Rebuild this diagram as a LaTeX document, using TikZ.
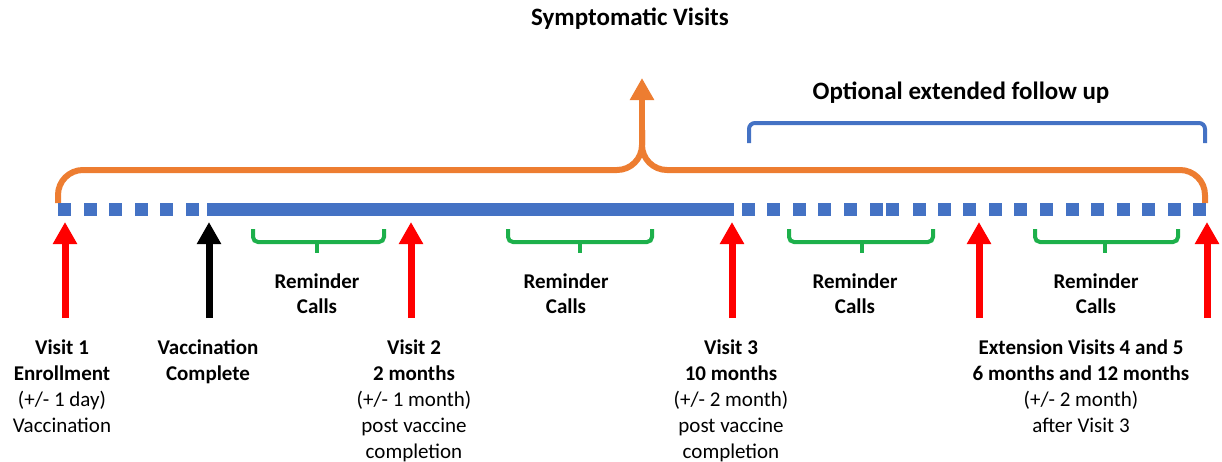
\documentclass[tikz,border=0pt]{standalone}
\usepackage{fontspec}
\setmainfont{Carlito}
\usetikzlibrary{arrows.meta}
\definecolor{cblue}{HTML}{4472C4}
\definecolor{corange}{HTML}{ED7D31}
\definecolor{cgreen}{HTML}{1DB04B}
\definecolor{cred}{HTML}{FF0000}
\tikzset{
  lbl/.style={align=center, inner sep=0pt, anchor=north, font=\fontsize{10.5}{13}\selectfont},
  rlbl/.style={lbl, font=\fontsize{10.5}{12.6}\selectfont\bfseries},
  ttl/.style={inner sep=0pt, font=\fontsize{12.5}{14}\selectfont\bfseries},
  visitarrow/.style={line width=3.5pt, -{Triangle[width=11.5pt,length=11pt]}},
  brace/.style={cgreen, line width=2pt, rounded corners=2.5pt},
  sq/.style={fill=cblue},
}
\begin{document}
\begin{tikzpicture}[x=0.5pt,y=-0.5pt]
\useasboundingbox (0,0) rectangle (1222,461);
% titles
\node[ttl] (sympt) at (630,19) {Symptomatic Visits};
\node[ttl] (optional) at (961,93) {Optional extended follow up};
% blue bracket
\draw[cblue, line width=2pt, rounded corners=3pt] (749,143) -- (749,123) -- (1205,123) -- (1205,143);
% orange bracket
\draw[corange, line width=3pt, rounded corners=12.5pt] (58,203) -- (58,170) -- (642,170) -- (642,130);
\draw[corange, line width=3pt, rounded corners=12.5pt] (642,130) -- (642,170) -- (1205,170) -- (1205,203);
\coordinate (obase) at (642,135);
\coordinate (otip) at (642,78);
\draw[corange, line width=3pt, -{Triangle[width=11.5pt,length=11pt]}] (obase) -- (otip);
% timeline
\foreach \x in {58,84,109,135,160,186}
  \fill[sq] (\x,203) rectangle +(12.5,13);
\fill[sq] (207,203) rectangle (734,216);
\foreach \x in {742,767,793,818,844,870,886,913,938,963,989,1014,1040,1066,1091,1117,1142,1168,1193}
  \fill[sq] (\x,203) rectangle +(12.5,13);
% visit arrows
\foreach \n/\x/\c in {v1/65/cred, vc/209/black, v2/411/cred, v3/732/cred, v4/979/cred, v5/1207/cred}{
  \coordinate (\n b) at (\x,318);
  \coordinate (\n t) at (\x,222);
  \draw[visitarrow, \c] (\n b) -- (\n t);
}
% reminder braces
\foreach \a/\b/\c in {253/384/317, 508/652/580, 789/933/862, 1035/1178/1105}{
  \draw[brace] (\a,229) -- (\a,242) -- (\b,242) -- (\b,229);
  \draw[brace] (\c,241) -- (\c,253);
}
\node[rlbl] (rc1) at (317,273) {Reminder\\Calls};
\node[rlbl] (rc2) at (566,273) {Reminder\\Calls};
\node[rlbl] (rc3) at (855,273) {Reminder\\Calls};
\node[rlbl] (rc4) at (1096,273) {Reminder\\Calls};
% bottom labels
\node[lbl] (t1) at (62,339) {\textbf{Visit 1}\\\textbf{Enrollment}\\(+/- 1 day)\\Vaccination};
\node[lbl] (tc) at (208,339) {\textbf{Vaccination}\\\textbf{Complete}};
\node[lbl] (t2) at (414,339) {\textbf{Visit 2}\\\textbf{2 months}\\(+/- 1 month)\\post vaccine\\completion};
\node[lbl] (t3) at (731,339) {\textbf{Visit 3}\\\textbf{10 months}\\(+/- 2 month)\\post vaccine\\completion};
\node[lbl] (t4) at (1081,339) {\textbf{Extension Visits 4 and 5}\\\textbf{6 months and 12 months}\\(+/- 2 month)\\after Visit 3};
\end{tikzpicture}
\end{document}
